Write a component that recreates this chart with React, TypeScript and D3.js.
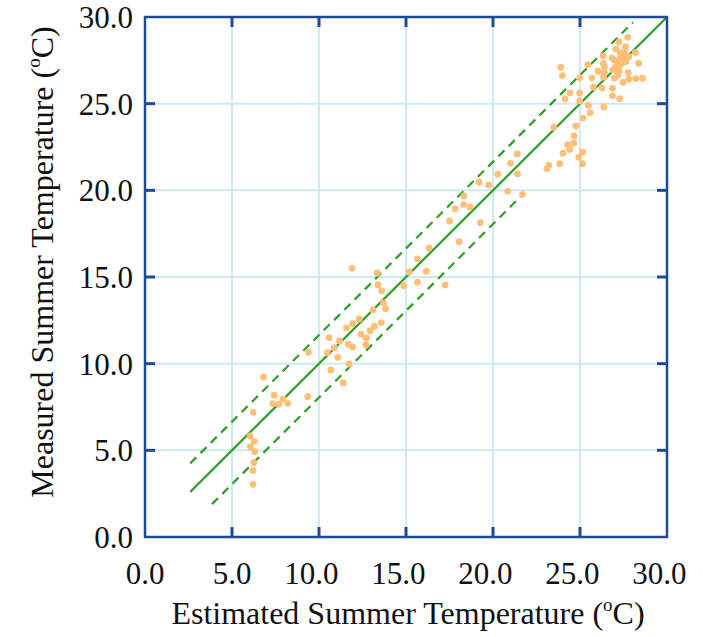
import React from "react";
import * as d3 from "d3";

const estimated: number[] = [
  6.21, 6.21, 6.25, 6.31, 6.06, 6.29, 6.04, 6.21, 6.81, 7.42, 7.35, 7.69, 7.94, 8.21, 9.35, 9.39,
  11.9, 13.35, 13.39, 13.6, 13.71, 13.83, 13.1, 12.31, 11.93, 11.58, 13.58, 13.18, 12.94, 12.41, 12.72, 12.7,
  10.58, 11.18, 11.68, 11.93, 10.87, 10.48, 11.08, 11.73, 10.68, 11.39,
  15.18, 15.66, 16.17, 15.66, 14.87, 16.33, 18.06, 17.25,
  21.39, 21.0, 20.27, 21.41, 19.2, 19.75, 20.85, 21.7, 18.33, 18.31, 18.68, 17.83, 17.5, 19.27,
  27.75, 27.24, 27.62, 27.06, 27.56, 28.18, 26.33, 26.85, 27.37, 27.8, 27.64, 27.41, 28.37, 25.45, 26.41, 23.89,
  27.21, 26.89, 26.04, 27.25, 27.77, 23.99, 25.0, 25.68, 26.35, 26.98, 27.8, 28.2, 28.6, 27.47, 25.77, 26.26,
  26.87, 24.43, 24.98, 26.87, 24.14, 24.98, 27.28, 25.47, 26.37, 25.58, 25.18, 23.5, 24.77, 24.66, 24.28, 24.64,
  24.41, 24.02, 25.14, 24.93, 23.83, 25.14, 23.21, 23.1,
  27.32, 27.62, 27.17, 27.05, 26.34, 27.17, 26.4, 27.5, 27.3, 27.0,
];

const measured: number[] = [
  3.04, 3.83, 4.29, 4.92, 5.21, 5.52, 5.83, 7.19, 9.23, 8.18, 7.69, 7.66, 7.96, 7.71, 8.09, 10.66,
  15.5, 15.23, 14.56, 14.2, 13.5, 13.17, 13.1, 12.58, 12.31, 12.06, 12.37, 12.16, 11.9, 11.7, 11.48, 11.08,
  11.5, 11.31, 11.12, 10.96, 10.92, 10.63, 10.37, 9.98, 9.64, 8.89,
  15.29, 16.04, 15.33, 14.7, 14.5, 16.68, 17.04, 14.54,
  22.1, 21.56, 20.93, 20.95, 20.48, 20.31, 19.95, 19.77, 19.68, 19.18, 19.04, 18.94, 18.23, 18.14,
  28.83, 28.56, 28.29, 28.16, 28.0, 27.95, 27.76, 27.62, 27.71, 27.71, 27.43, 27.33, 27.33, 27.24, 27.14, 27.1,
  27.05, 26.95, 26.87, 26.85, 26.79, 26.62, 26.49, 26.49, 26.53, 26.47, 26.41, 26.45, 26.47, 26.22, 25.95, 25.91,
  25.89, 25.62, 25.62, 25.45, 25.27, 25.16, 25.29, 24.91, 24.81, 24.48, 24.17, 23.64, 23.72, 23.14, 22.64, 22.72,
  22.37, 22.14, 22.2, 21.91, 21.54, 21.54, 21.46, 21.24,
  27.62, 27.68, 27.39, 27.14, 27.33, 26.66, 26.79, 27.9, 27.95, 27.5,
];

const tickValues: number[] = [0, 5, 10, 15, 20, 25, 30];
const innerTicks: number[] = [5, 10, 15, 20, 25];

// reference lines: x start, x end, offset from 1:1
const lineStarts: number[] = [2.6, 2.6, 3.85];
const lineEnds: number[] = [30, 28.05, 21.8];
const lineOffsets: number[] = [0, 1.65, -1.95];
const lineDashed: boolean[] = [false, true, true];

const W = 703;
const H = 637;
const FRAME = "#1e4b99";
const GRID = "#cdeaf2";
const GREEN = "#32a02c";
const DOT = "#ffbf78";
const FONT = "'Liberation Serif', 'Times New Roman', serif";
const TICK_FS = 31;
const TITLE_FS = 32;

export default function App() {
  const x = d3.scaleLinear().domain([0, 30]).range([145, 667]);
  const y = d3.scaleLinear().domain([0, 30]).range([537, 17]);
  const fmt = d3.format(".1f");
  const line = d3
    .line<[number, number]>()
    .x((d) => x(d[0]))
    .y((d) => y(d[1]));
  const points = estimated.map((e, i) => [e, measured[i]] as [number, number]);
  const tickLen = 10;

  return (
    <svg
      width={W}
      height={H}
      style={{ position: "absolute", left: 0, top: 0, background: "#fff" }}
      fontFamily={FONT}
    >
      {innerTicks.map((t) => (
        <g key={"g" + t}>
          <line x1={x(t)} x2={x(t)} y1={y(0)} y2={y(30)} stroke={GRID} strokeWidth={2} />
          <line x1={x(0)} x2={x(30)} y1={y(t)} y2={y(t)} stroke={GRID} strokeWidth={2} />
        </g>
      ))}
      {lineStarts.map((s, i) => (
        <path
          key={"l" + i}
          d={
            line([
              [s, s + lineOffsets[i]],
              [lineEnds[i], lineEnds[i] + lineOffsets[i]],
            ]) || ""
          }
          fill="none"
          stroke={GREEN}
          strokeWidth={2.3}
          strokeDasharray={lineDashed[i] ? "8.5,6" : undefined}
        />
      ))}
      {points.map((p, i) => (
        <circle key={"p" + i} cx={x(p[0])} cy={y(p[1])} r={3.4} fill={DOT} />
      ))}
      <rect
        x={x(0)}
        y={y(30)}
        width={x(30) - x(0)}
        height={y(0) - y(30)}
        fill="none"
        stroke={FRAME}
        strokeWidth={2.5}
      />
      {innerTicks.map((t) => (
        <g key={"t" + t} stroke={FRAME} strokeWidth={3}>
          <line x1={x(t)} x2={x(t)} y1={y(0)} y2={y(0) - tickLen} />
          <line x1={x(t)} x2={x(t)} y1={y(30)} y2={y(30) + tickLen} />
          <line x1={x(0)} x2={x(0) + tickLen} y1={y(t)} y2={y(t)} />
          <line x1={x(30)} x2={x(30) - tickLen} y1={y(t)} y2={y(t)} />
        </g>
      ))}
      {tickValues.map((t) => {
        const label = fmt(t);
        const shift = label.length > 3 ? 0.25 * TICK_FS : 0;
        return (
          <text
            key={"xl" + t}
            x={x(t) - shift}
            y={584}
            textAnchor="middle"
            fontSize={TICK_FS}
            fill="#111"
          >
            {label}
          </text>
        );
      })}
      {tickValues.map((t) => (
        <text key={"yl" + t} x={133} y={y(t) + 11} textAnchor="end" fontSize={TICK_FS} fill="#111">
          {fmt(t)}
        </text>
      ))}
      <text x={408} y={624} textAnchor="middle" fontSize={TITLE_FS} fill="#111">
        Estimated Summer Temperature (
        <tspan fontSize={19} dy={-13}>o</tspan>
        <tspan dy={13}>C)</tspan>
      </text>
      <text
        transform={`translate(53,262) rotate(-90)`}
        textAnchor="middle"
        fontSize={TITLE_FS}
        fill="#111"
      >
        Measured Summer Temperature (
        <tspan fontSize={19} dy={-13}>o</tspan>
        <tspan dy={13}>C)</tspan>
      </text>
    </svg>
  );
}
